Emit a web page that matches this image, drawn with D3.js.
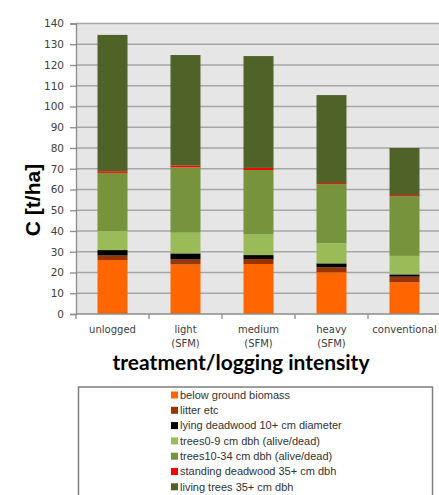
<!DOCTYPE html>
<html>
<head>
<meta charset="utf-8">
<script src="https://cdn.jsdelivr.net/npm/d3@7"></script>
<style>
  html, body { margin: 0; padding: 0; background: #fff; }
  svg { display: block; }
</style>
</head>
<body>
<svg id="chart" width="439" height="495"></svg>
<script>
// Carbon stocks per treatment, stacked by pool (t C / ha)
const categories = ["unlogged", "light\n(SFM)", "medium\n(SFM)", "heavy\n(SFM)", "conventional"];
const seriesNames = [
  "below ground biomass",
  "litter etc",
  "lying deadwood 10+ cm diameter",
  "trees0-9 cm dbh (alive/dead)",
  "trees10-34 cm dbh (alive/dead)",
  "standing deadwood 35+ cm dbh",
  "living trees 35+ cm dbh"
];
const belowGround   = [26.0, 23.9, 24.1, 20.1, 15.3];
const litter        = [2.2, 2.4, 2.4, 2.4, 2.7];
const lyingDeadwood = [2.6, 2.9, 1.9, 1.9, 1.1];
const trees0to9     = [9.2, 10.0, 10.0, 9.7, 8.9];
const trees10to34   = [28.0, 31.5, 31.0, 28.5, 28.8];
const standingDead  = [0.8, 0.9, 1.0, 0.5, 0.5];
const livingTrees   = [65.7, 53.2, 53.9, 42.4, 22.7];
const yTicks = [0, 10, 20, 30, 40, 50, 60, 70, 80, 90, 100, 110, 120, 130, 140];

const seriesValues = [belowGround, litter, lyingDeadwood, trees0to9, trees10to34, standingDead, livingTrees];
const colors = ["#FF6600", "#993300", "#000000", "#9BBB59", "#77933C", "#FF0000", "#4F6228"];

const rows = categories.map((c, i) => {
  const r = { cat: c };
  seriesNames.forEach((s, k) => { r[s] = seriesValues[k][i]; });
  return r;
});

const svg = d3.select("#chart");
const plot = { left: 76, right: 441, top: 23.5, bottom: 314 };

const x = d3.scaleBand().domain(categories).range([plot.left, plot.right]).paddingInner(0.589).paddingOuter(0.2945);
const y = d3.scaleLinear().domain([0, 140]).range([plot.bottom, plot.top]);

// plot background
svg.append("rect")
  .attr("x", plot.left).attr("y", plot.top)
  .attr("width", plot.right - plot.left).attr("height", plot.bottom - plot.top)
  .attr("fill", "#E6E6E6");

// horizontal gridlines
svg.append("g").selectAll("line").data(yTicks.filter(t => t > 0)).join("line")
  .attr("x1", plot.left).attr("x2", plot.right)
  .attr("y1", d => y(d)).attr("y2", d => y(d))
  .attr("stroke", "#A6A6A6").attr("stroke-width", 1.3);

// stacked bars
const stack = d3.stack().keys(seriesNames)(rows);
svg.append("g").selectAll("g").data(stack).join("g")
  .attr("fill", (d, i) => colors[i])
  .selectAll("rect").data(d => d).join("rect")
  .attr("x", d => x(d.data.cat))
  .attr("width", x.bandwidth())
  .attr("y", d => y(d[1]))
  .attr("height", d => y(d[0]) - y(d[1]));

// y axis
const yAxis = svg.append("g")
  .attr("transform", `translate(${plot.left},0)`)
  .call(d3.axisLeft(y).tickValues(yTicks).tickSize(6).tickPadding(6));
yAxis.select(".domain").attr("stroke", "#8C8C8C").attr("stroke-width", 1.3);
yAxis.selectAll(".tick line").attr("stroke", "#8C8C8C").attr("stroke-width", 1.3);
yAxis.selectAll(".tick text")
  .attr("fill", "#404040")
  .style("font-family", "DejaVu Sans, sans-serif")
  .style("font-size", "10.5px");

// x axis line with ticks at category boundaries
const xAxisG = svg.append("g");
xAxisG.append("line")
  .attr("x1", plot.left).attr("x2", plot.right)
  .attr("y1", plot.bottom).attr("y2", plot.bottom)
  .attr("stroke", "#8C8C8C").attr("stroke-width", 1.3);
const step = x.step();
xAxisG.selectAll("line.tk").data(d3.range(categories.length)).join("line")
  .attr("class", "tk")
  .attr("x1", i => plot.left + i * step).attr("x2", i => plot.left + i * step)
  .attr("y1", plot.bottom).attr("y2", plot.bottom + 5)
  .attr("stroke", "#8C8C8C").attr("stroke-width", 1.3);

// category labels (two lines where needed)
const catLabels = svg.append("g")
  .style("font-family", "DejaVu Sans, sans-serif")
  .style("font-size", "10px")
  .attr("fill", "#404040")
  .attr("text-anchor", "middle");
categories.forEach(c => {
  const t = catLabels.append("text")
    .attr("x", x(c) + x.bandwidth() / 2)
    .attr("y", 333);
  c.split("\n").forEach((line, j) => {
    t.append("tspan").attr("x", x(c) + x.bandwidth() / 2).attr("dy", j === 0 ? 0 : 13.5).text(line);
  });
});

// axis titles
svg.append("text")
  .attr("transform", "translate(40,200) rotate(-90)")
  .attr("text-anchor", "middle")
  .style("font-family", "Liberation Sans, Arial, sans-serif")
  .style("font-weight", "bold")
  .style("font-size", "21px")
  .attr("fill", "#000")
  .text("C [t/ha]");

svg.append("text")
  .attr("x", 241).attr("y", 369.5)
  .attr("text-anchor", "middle")
  .style("font-family", "Lato, sans-serif")
  .style("font-weight", "bold")
  .style("font-size", "21px")
  .attr("fill", "#000")
  .text("treatment/logging intensity");

// legend
svg.append("rect")
  .attr("x", 78.5).attr("y", 387)
  .attr("width", 354).attr("height", 120)
  .attr("fill", "#fff")
  .attr("stroke", "#7F7F7F").attr("stroke-width", 1.5);

const legend = svg.append("g");
const legendRows = legend.selectAll("g").data(seriesNames).join("g")
  .attr("transform", (d, i) => `translate(171,${395 + i * 15.3})`);
legendRows.append("rect")
  .attr("x", 0).attr("y", -3.5).attr("width", 7).attr("height", 7)
  .attr("fill", (d, i) => colors[i]);
legendRows.append("text")
  .attr("x", 9).attr("y", 3.8)
  .style("font-family", "Liberation Sans, Arial, sans-serif")
  .style("font-size", "11px")
  .attr("fill", "#333")
  .text(d => d);
</script>
</body>
</html>
